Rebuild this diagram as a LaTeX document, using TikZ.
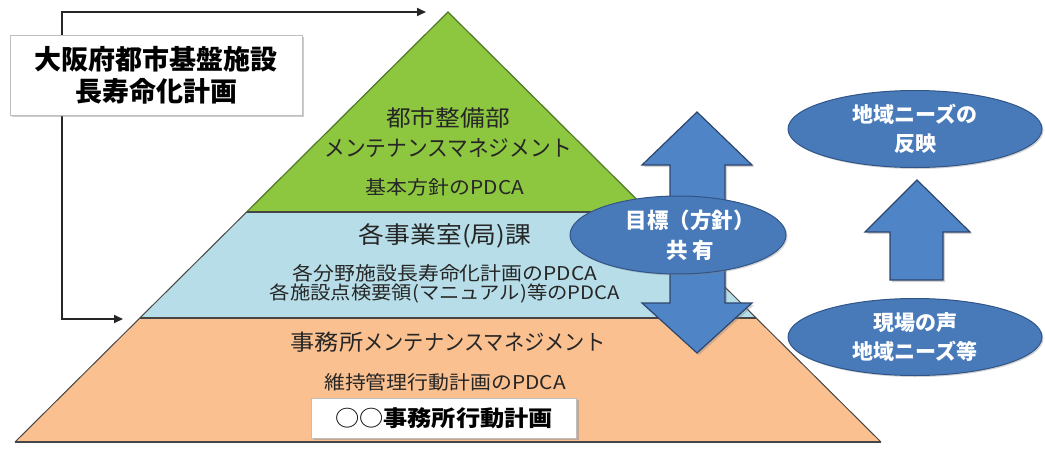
\documentclass[tikz,border=0pt]{standalone}
\usepackage{fontspec}
\setmainfont{Noto Sans CJK JP}
\newfontfamily\pfont{Noto Sans CJK JP}[FakeStretch=1.1]
\newfontfamily\kfont{Noto Sans CJK JP}[FakeStretch=0.92]
\usetikzlibrary{arrows.meta,shapes.geometric,shadows}
\definecolor{pgreen}{RGB}{141,198,63}
\definecolor{pgreenD}{RGB}{80,120,40}
\definecolor{pblue}{RGB}{183,222,232}
\definecolor{porange}{RGB}{250,192,144}
\definecolor{edge}{RGB}{70,70,70}
\definecolor{ellfill}{RGB}{72,122,186}
\definecolor{elledge}{RGB}{50,85,135}
\definecolor{arrfill}{RGB}{79,132,198}
\definecolor{arredge}{RGB}{45,70,110}
\tikzset{
  band/.style={draw=edge, line width=1.2pt},
  ptext/.style={font=\pfont\fontsize{22.5}{24}\selectfont, text=black!85, align=center, inner sep=0pt},
  psmall/.style={font=\pfont\fontsize{19}{20}\selectfont, text=black!85, align=center, inner sep=0pt},
  blueell/.style={ellipse, fill=ellfill, draw=elledge, line width=1pt, text=white,
     font=\bfseries\fontsize{21}{29}\selectfont, align=center, inner sep=0pt,
     drop shadow={shadow xshift=1.5pt, shadow yshift=-1.5pt, opacity=0.35}},
  elltext/.style={text=white, font=\bfseries\fontsize{21.5}{30}\selectfont, align=center, inner sep=0pt},
  bigarrow/.style={fill=arrfill, draw=arredge, line width=1.2pt, line join=miter,
     drop shadow={shadow xshift=2pt, shadow yshift=-2pt, opacity=0.35}},
  conn/.style={draw=black!85, line width=2pt, {Triangle[length=9pt,width=8pt]}-{Triangle[length=9pt,width=8pt]}},
  whitebox/.style={draw=black!25, fill=white, line width=0.8pt, align=center, inner sep=0pt,
     drop shadow={shadow xshift=2pt, shadow yshift=-2pt, opacity=0.4}}
}
\begin{document}
\begin{tikzpicture}[x=1pt,y=-1pt]
\useasboundingbox (0,0) rectangle (1045,450);
% connector behind title
\coordinate (ctop) at (426,12);
\coordinate (cbot) at (123,319);
\draw[conn] (ctop) -- (62,12) -- (62,319) -- (cbot);
% pyramid bands
\fill[porange] (140,318) -- (756,318) -- (881,442) -- (15,442) -- cycle;
\fill[pblue] (246.6,212) -- (649.4,212) -- (756,318) -- (140,318) -- cycle;
\fill[pgreen] (448,12) -- (649.4,212) -- (246.6,212) -- cycle;
\draw[pgreenD, line width=1.2pt] (246.6,212) -- (448,12) -- (649.4,212);
\draw[band] (246.6,212) -- (649.4,212);
\draw[band] (140,318) -- (756,318);
\draw[band] (15,442) -- (881,442);
\draw[edge, line width=1pt] (246.6,212) -- (15,442);
\draw[edge, line width=1pt] (649.4,212) -- (881,442);
% title
\node[whitebox, minimum width=292pt, minimum height=80pt, font=\bfseries\fontsize{27}{32}\selectfont] (title) at (156,75) {大阪府都市基盤施設\\長寿命化計画};
% green texts
\node[ptext] (g1) at (448,118) {都市整備部};
\node[ptext] (g2) at (448,148) {\kfont メンテナンスマネジメント};
\node[psmall] (g3) at (445,187) {基本方針のPDCA};
% blue texts
\node[ptext, font=\pfont\fontsize{23.5}{24}\selectfont] (b1) at (445,236) {各事業室(局)課};
\node[psmall] (b2a) at (445,273) {各分野施設長寿命化計画のPDCA};
\node[psmall, font=\pfont\fontsize{18.5}{20}\selectfont] (b2b) at (445,293) {各施設点検要領(マニュアル)等のPDCA};
% orange texts
\node[ptext, font=\pfont\fontsize{22}{24}\selectfont] (o1) at (448,342) {事務所{\kfont メンテナンスマネジメント}};
\node[psmall] (o2) at (445,382) {維持管理行動計画のPDCA};
\node[whitebox, minimum width=265pt, minimum height=40pt, font=\pfont\fontsize{22}{24}\selectfont] (obox) at (444,418) {○○\textbf{事務所行動計画}};
% double arrow
\draw[bigarrow] (697,112) -- (752,165) -- (725,165) -- (725,303) -- (752,303) -- (697,353) -- (642,303) -- (670,303) -- (670,165) -- (642,165) -- cycle;
\node[blueell, minimum width=216pt, minimum height=78pt] (goal) at (678,235) {};
\node[elltext] (goaltxt) at (690,235) {目標（方針）\\共\ 有};
% right side
\node[blueell, minimum width=254pt, minimum height=77pt] (refl) at (915,129) {地域ニーズの\\反映};
\node[blueell, minimum width=254pt, minimum height=77pt] (voice) at (915,337) {現場の声\\地域ニーズ等};
\draw[bigarrow] (917,180) -- (970,232) -- (943,232) -- (943,280) -- (890,280) -- (890,232) -- (865,232) -- cycle;
\end{tikzpicture}
\end{document}
